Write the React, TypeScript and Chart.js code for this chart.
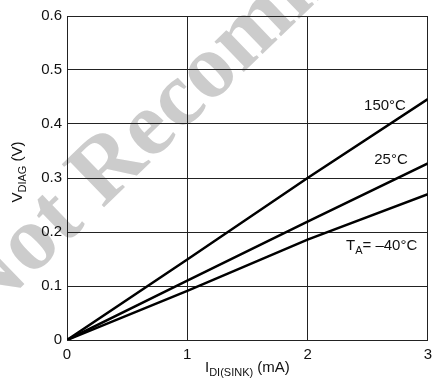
import React, { useEffect, useRef } from "react";
import { Chart, registerables } from "chart.js";

Chart.register(...registerables);

// ---- data ----
const currents = [0, 1, 2, 3]; // I_DI(SINK) (mA)
const v150 = [0, 0.149, 0.3, 0.446]; // 150°C
const v25 = [0, 0.11, 0.219, 0.327]; // 25°C
const vm40 = [0, 0.091, 0.186, 0.27]; // -40°C
const xTicks = [0, 1, 2, 3];
const yTicks = [0, 0.1, 0.2, 0.3, 0.4, 0.5, 0.6];
const seriesNames = ["150°C", "25°C", "–40°C"];
const watermarkText = "Not Recommended";

const FONT = '"Liberation Sans", Arial, Helvetica, sans-serif';

type Part = { t: string; sub?: boolean };

function drawRich(ctx: CanvasRenderingContext2D, parts: Part[], x: number, y: number, align: "left" | "center", size: number, subSize: number, subShift: number) {
  const widths = parts.map((p) => {
    ctx.font = `${p.sub ? subSize : size}px ${FONT}`;
    return ctx.measureText(p.t).width;
  });
  const total = widths.reduce((a, b) => a + b, 0);
  let cx = align === "center" ? x - total / 2 : x;
  ctx.textAlign = "left";
  ctx.textBaseline = "alphabetic";
  parts.forEach((p, i) => {
    ctx.font = `${p.sub ? subSize : size}px ${FONT}`;
    ctx.fillText(p.t, cx, p.sub ? y + subShift : y);
    cx += widths[i];
  });
}

const zip = (xs: number[], ys: number[]) => xs.map((x, i) => ({ x, y: ys[i] }));

export default function App() {
  const ref = useRef<HTMLCanvasElement | null>(null);

  useEffect(() => {
    document.body.style.margin = "0";
    const canvas = ref.current;
    if (!canvas) return;

    const watermark = {
      id: "watermark",
      beforeDraw(chart: any) {
        const ctx = chart.ctx as CanvasRenderingContext2D;
        ctx.save();
        ctx.translate(-17, 324);
        ctx.rotate((-44 * Math.PI) / 180);
        ctx.font = 'bold 92px "Liberation Serif", "Times New Roman", serif';
        ctx.fillStyle = "#cccccc";
        ctx.textAlign = "left";
        ctx.textBaseline = "alphabetic";
        ctx.fillText(watermarkText, 0, 0);
        ctx.restore();
      },
    };

    const annotations = {
      id: "annotations",
      afterDraw(chart: any) {
        const ctx = chart.ctx as CanvasRenderingContext2D;
        const xs = chart.scales.x;
        const ys = chart.scales.y;
        ctx.save();
        ctx.fillStyle = "#111";
        // series labels
        ctx.font = `15px ${FONT}`;
        ctx.textAlign = "center";
        ctx.textBaseline = "middle";
        ctx.fillText(seriesNames[0], 385, 106);
        ctx.fillText(seriesNames[1], 391, 160);
        drawRich(ctx, [{ t: "T" }, { t: "A", sub: true }, { t: "= " + seriesNames[2] }], 346, 250, "left", 15, 11, 4);
        // x title
        const xc = (xs.left + xs.right) / 2;
        drawRich(ctx, [{ t: "I" }, { t: "DI(SINK)", sub: true }, { t: " (mA)" }], xc, 372, "center", 15, 11, 4);
        // y title
        ctx.translate(22, (ys.top + ys.bottom) / 2 - 6);
        ctx.rotate(-Math.PI / 2);
        drawRich(ctx, [{ t: "V" }, { t: "DIAG", sub: true }, { t: " (V)" }], 0, 0, "center", 15, 11, 4);
        ctx.restore();
      },
    };

    const lineStyle = { borderColor: "#000", borderWidth: 2.5, pointRadius: 0, fill: false, tension: 0 };

    const chart = new Chart(canvas, {
      type: "scatter",
      data: {
        datasets: [
          { label: seriesNames[0], data: zip(currents, v150), showLine: true, ...lineStyle },
          { label: seriesNames[1], data: zip(currents, v25), showLine: true, ...lineStyle },
          { label: seriesNames[2], data: zip(currents, vm40), showLine: true, ...lineStyle },
        ],
      },
      options: {
        responsive: false,
        animation: false,
        layout: { padding: { left: 0, top: 16, right: 6, bottom: 0 } },
        plugins: { legend: { display: false }, tooltip: { enabled: false } },
        scales: {
          x: {
            type: "linear",
            min: 0,
            max: 3,
            afterFit: (axis: any) => {
              axis.height = 47;
            },
            afterBuildTicks: (axis: any) => {
              axis.ticks = xTicks.map((v) => ({ value: v }));
            },
            grid: { color: "#222", lineWidth: 1, drawTicks: false },
            border: { color: "#222", width: 1 },
            ticks: {
              padding: 6,
              color: "#111",
              font: { family: FONT, size: 15 },
              callback: (v: any) => String(v),
            },
          },
          y: {
            type: "linear",
            min: 0,
            max: 0.6,
            afterFit: (axis: any) => {
              axis.width = 67;
            },
            afterBuildTicks: (axis: any) => {
              axis.ticks = yTicks.map((v) => ({ value: v }));
            },
            grid: { color: "#222", lineWidth: 1, drawTicks: false },
            border: { color: "#222", width: 1 },
            ticks: {
              padding: 5,
              color: "#111",
              font: { family: FONT, size: 15 },
              callback: (v: any) => (Number(v) === 0 ? "0" : Number(v).toFixed(1)),
            },
          },
        },
      },
      plugins: [watermark, annotations],
    } as any);

    return () => chart.destroy();
  }, []);

  return (
    <div style={{ width: 438, height: 387, background: "#fff" }}>
      <canvas ref={ref} width={438} height={387} style={{ display: "block" }} />
    </div>
  );
}
